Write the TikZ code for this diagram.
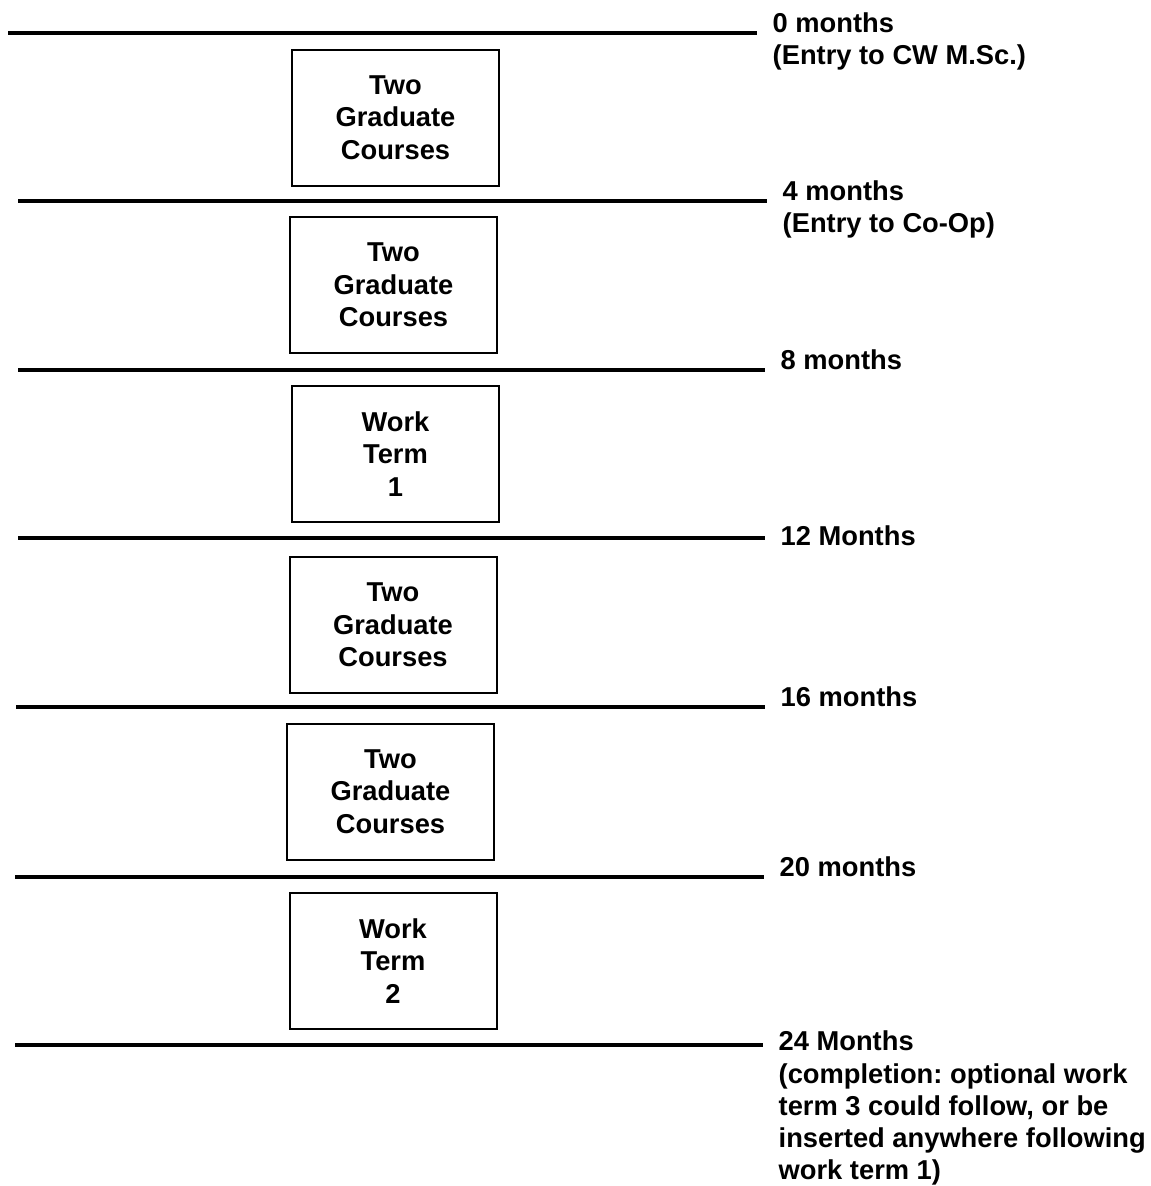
\documentclass[tikz,border=0pt]{standalone}
\usepackage{fontspec}
\setmainfont{Liberation Sans}
\usepackage{tikz}
\usetikzlibrary{positioning}
\frenchspacing

\begin{document}
\begin{tikzpicture}[x=1pt,y=-1pt,font=\bfseries\fontsize{27.3}{32.5}\selectfont,
	term/.style={draw=black,line width=2pt,rectangle,align=center,minimum width=207pt,minimum height=136pt,inner sep=0pt},
	rule/.style={line width=3.6pt},
	when/.style={align=left,anchor=north west,inner sep=0pt,xshift=15.5pt,yshift=20.5pt},
	low/.style={yshift=-8.5pt}]
	\useasboundingbox (0,0) rectangle (1151,1186);

	% the six periods
	\node[term]			(c1)	at (395.5,117.5)	{Two\\Graduate\\Courses};
	\node[term]			(c2)	at (393.5,285)		{Two\\Graduate\\Courses};
	\node[term]			(w1)	at (395.5,454)		{Work\\Term\\1};
	\node[term]			(c3)	at (393,625)		{Two\\Graduate\\Courses};
	\node[term]			(c4)	at (390.5,791.5)	{Two\\Graduate\\Courses};
	\node[term]			(w2)	at (393,961)		{Work\\Term\\2};

	% time lines
	\coordinate			(m0a)	at (8,33);		\coordinate	(m0b)	at (757,33);
	\coordinate			(m4a)	at (18,201);	\coordinate	(m4b)	at (767,201);
	\coordinate			(m8a)	at (18,370);	\coordinate	(m8b)	at (765,370);
	\coordinate			(m12a)	at (18,538);	\coordinate	(m12b)	at (765,538);
	\coordinate			(m16a)	at (16,707);	\coordinate	(m16b)	at (765,707);
	\coordinate			(m20a)	at (15,877);	\coordinate	(m20b)	at (764,877);
	\coordinate			(m24a)	at (15,1045);	\coordinate	(m24b)	at (763,1045);

	\foreach \m in {0,4,8,12,16,20,24}
		\draw[rule] (m\m a) -- (m\m b);

	\node[when]			(t0)	at (m0b)	{0 months\\(Entry to CW M.Sc.)};
	\node[when]			(t4)	at (m4b)	{4 months\\(Entry to Co-Op)};
	\node[when]			(t8)	at (m8b)	{8 months};
	\node[when,low]		(t12)	at (m12b)	{12 Months};
	\node[when]			(t16)	at (m16b)	{16 months};
	\node[when]			(t20)	at (m20b)	{20 months};
	\node[when,low,yshift=2pt,font=\bfseries\fontsize{27.3}{32.2}\selectfont]
						(t24)	at (m24b)	{24 Months\\(completion: optional work\\term 3 could follow, or be\\inserted anywhere following\\work term 1)};
\end{tikzpicture}
\end{document}
